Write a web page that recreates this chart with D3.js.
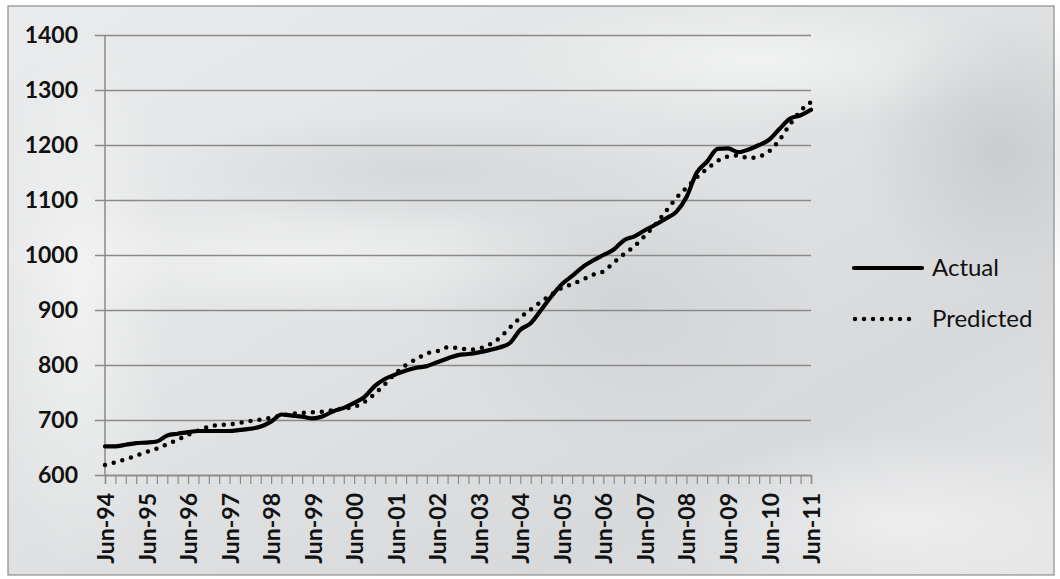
<!DOCTYPE html>
<html>
<head>
<meta charset="utf-8">
<script src="https://cdn.jsdelivr.net/npm/d3@7"></script>
<style>
  html, body { margin: 0; padding: 0; background: #ffffff; }
  svg { display: block; }
  text { font-family: Lato, "Open Sans", sans-serif; fill: #111; }
  .axis-label { font-weight: 700; }
  .legend-label { font-weight: 400; }
</style>
</head>
<body>
<svg id="chart" width="1060" height="579"></svg>
<script>
// Quarterly series, Jun-94 through Jun-11
const actual = [
  652, 652, 655, 658, 659, 661, 672, 675, 678, 680,
  680, 680, 680, 682, 684, 688, 697, 710, 708, 706,
  703, 707, 716, 722, 731, 742, 762, 775, 783, 790,
  795, 798, 805, 812, 818, 820, 823, 827, 832, 840,
  864, 876, 900, 925, 947, 962, 978, 990, 1000, 1010,
  1027, 1034, 1045, 1055, 1066, 1078, 1105, 1150, 1170, 1193,
  1194, 1187, 1192, 1200, 1210, 1230, 1248, 1254, 1264
];
const predicted = [
  618, 623, 629, 635, 642, 648, 656, 664, 673, 681,
  688, 691, 692, 695, 698, 701, 704, 708, 711, 713,
  714, 715, 718, 721, 724, 733, 748, 766, 785, 800,
  811, 821, 825, 832, 831, 828, 830, 837, 849, 868,
  886, 901, 915, 928, 940, 947, 955, 964, 970, 986,
  1002, 1016, 1035, 1055, 1079, 1103, 1122, 1141, 1157, 1171,
  1179, 1181, 1176, 1179, 1189, 1210, 1238, 1262, 1278
];
const yearLabels = ["Jun-94","Jun-95","Jun-96","Jun-97","Jun-98","Jun-99","Jun-00","Jun-01","Jun-02",
  "Jun-03","Jun-04","Jun-05","Jun-06","Jun-07","Jun-08","Jun-09","Jun-10","Jun-11"];
const yTicks = [600, 700, 800, 900, 1000, 1100, 1200, 1300, 1400];
const seriesNames = ["Actual", "Predicted"];

const svg = d3.select("#chart");
const W = 1060, H = 579;

// Background panel with soft grey sheen
const defs = svg.append("defs");
const base = defs.append("linearGradient").attr("id", "bg").attr("x1", 0).attr("y1", 0).attr("x2", 1).attr("y2", 1);
base.append("stop").attr("offset", "0%").attr("stop-color", "#eaebec");
base.append("stop").attr("offset", "45%").attr("stop-color", "#e0e2e3");
base.append("stop").attr("offset", "75%").attr("stop-color", "#d7d9db");
base.append("stop").attr("offset", "100%").attr("stop-color", "#e4e5e6");

const glow = (id, c, o) => {
  const g = defs.append("radialGradient").attr("id", id);
  g.append("stop").attr("offset", "0%").attr("stop-color", c).attr("stop-opacity", o);
  g.append("stop").attr("offset", "100%").attr("stop-color", c).attr("stop-opacity", 0);
};
glow("hiA", "#ffffff", 0.55);
glow("hiB", "#ffffff", 0.45);
glow("dkA", "#b0b3b6", 0.4);
glow("dkB", "#bcbfc2", 0.35);

svg.append("rect").attr("x", 8).attr("y", 6).attr("width", W - 14).attr("height", H - 10)
  .attr("fill", "url(#bg)");
const sheen = svg.append("g");
sheen.append("ellipse").attr("cx", 760).attr("cy", 60).attr("rx", 260).attr("ry", 70).attr("fill", "url(#hiA)");
sheen.append("ellipse").attr("cx", 900).attr("cy", 520).attr("rx", 240).attr("ry", 90).attr("fill", "url(#hiB)");
sheen.append("ellipse").attr("cx", 300).attr("cy", 260).attr("rx", 320).attr("ry", 60).attr("fill", "url(#hiB)");
sheen.append("ellipse").attr("cx", 80).attr("cy", 300).attr("rx", 90).attr("ry", 280).attr("fill", "url(#hiB)");
sheen.append("ellipse").attr("cx", 1000).attr("cy", 150).attr("rx", 140).attr("ry", 140).attr("fill", "url(#dkA)");
sheen.append("ellipse").attr("cx", 620).attr("cy", 300).attr("rx", 200).attr("ry", 150).attr("fill", "url(#dkB)");
sheen.append("ellipse").attr("cx", 420).attr("cy", 170).attr("rx", 260).attr("ry", 60).attr("fill", "url(#dkB)");
svg.append("rect").attr("x", 8).attr("y", 6).attr("width", W - 14).attr("height", H - 10)
  .attr("fill", "none").attr("stroke", "#8c8c8c").attr("stroke-width", 1.2);

// Scales
const plotL = 105, plotR = 811, plotT = 35, plotB = 475;
const x = d3.scaleLinear().domain([0, actual.length - 1]).range([plotL, plotR]);
const y = d3.scaleLinear().domain([600, 1400]).range([plotB, plotT]);

// Horizontal gridlines with the y axis ticks
const yAxis = d3.axisLeft(y).tickValues(yTicks).tickSize(plotR - plotL + 10).tickPadding(17)
  .tickFormat(d3.format("d"));
const gy = svg.append("g").attr("transform", `translate(${plotR},0)`).call(yAxis);
gy.select(".domain").remove();
gy.selectAll("line").attr("stroke", "#8a8a8a").attr("stroke-width", 1.5);
gy.selectAll("text").attr("class", "axis-label").attr("font-size", 23).attr("fill", "#111")
  .attr("font-family", null);

// Vertical axis line
svg.append("line").attr("x1", plotL).attr("x2", plotL).attr("y1", plotT).attr("y2", plotB)
  .attr("stroke", "#8a8a8a").attr("stroke-width", 1.5);

// Quarterly tick marks and yearly labels on the x axis
const gx = svg.append("g").attr("transform", `translate(0,${plotB})`)
  .call(d3.axisBottom(x).tickValues(d3.range(0, actual.length)).tickSize(9).tickFormat(""));
gx.select(".domain").attr("stroke", "#8a8a8a").attr("stroke-width", 1.5);
gx.selectAll("line").attr("stroke", "#8a8a8a").attr("stroke-width", 1.2);

svg.append("g").selectAll("text").data(yearLabels).join("text")
  .attr("class", "axis-label")
  .attr("transform", (d, i) => `translate(${x(i * 4) + 1},${plotB + 18}) rotate(-90)`)
  .attr("text-anchor", "end").attr("dy", "0.35em")
  .attr("font-size", 23).text(d => d);

// Series lines
const line = d3.line().x((d, i) => x(i)).y(d => y(d)).curve(d3.curveMonotoneX);
svg.append("path").datum(actual).attr("d", line)
  .attr("fill", "none").attr("stroke", "#000").attr("stroke-width", 4.2)
  .attr("stroke-linejoin", "round").attr("stroke-linecap", "round");
svg.append("path").datum(predicted).attr("d", line)
  .attr("fill", "none").attr("stroke", "#000").attr("stroke-width", 4.5)
  .attr("stroke-linecap", "round").attr("stroke-dasharray", "0 9");

// Legend
const lg = svg.append("g");
lg.append("line").attr("x1", 854).attr("x2", 922).attr("y1", 268).attr("y2", 268)
  .attr("stroke", "#000").attr("stroke-width", 4.2).attr("stroke-linecap", "round");
lg.append("line").attr("x1", 855).attr("x2", 918).attr("y1", 319).attr("y2", 319)
  .attr("stroke", "#000").attr("stroke-width", 4.5).attr("stroke-linecap", "round")
  .attr("stroke-dasharray", "0 9");
lg.selectAll("text").data(seriesNames).join("text")
  .attr("class", "legend-label")
  .attr("x", 932).attr("y", (d, i) => 268 + i * 51).attr("dy", "0.35em")
  .attr("font-size", 24).text(d => d);
</script>
</body>
</html>
